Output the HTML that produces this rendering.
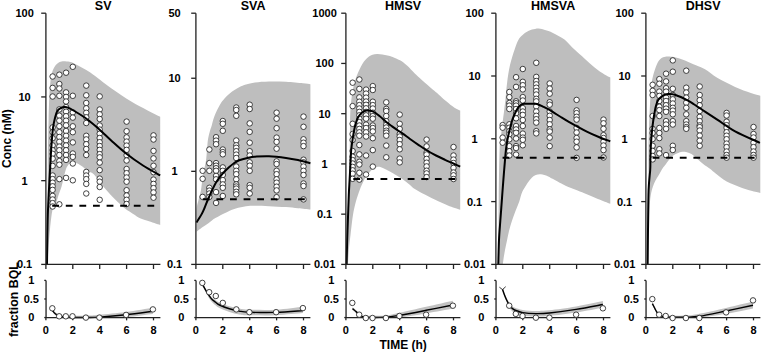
<!DOCTYPE html>
<html><head><meta charset="utf-8"><style>
html,body{margin:0;padding:0;background:#fff;}
svg{display:block;}
text{font-family:"Liberation Sans",sans-serif;font-weight:bold;text-anchor:middle;fill:#000;}
.tl{font-size:11px;}
.ti{font-size:12.5px;}
.lab{font-size:12px;}
.ax{fill:none;stroke:#222;stroke-width:1.3;}
.band{fill:#bebebe;}
.bband{fill:#c2c2c2;}
.loq{stroke:#000;stroke-width:2;stroke-dasharray:6.8,6.8;}
.med{fill:none;stroke:#000;stroke-width:2;stroke-linejoin:round;}
.bmed{fill:none;stroke:#000;stroke-width:1.45;stroke-linejoin:round;}
.ythin{fill:none;stroke:#222;stroke-width:0.9;}
circle{fill:#fff;stroke:#222;stroke-width:0.85;}
</style></head><body>
<svg width="762" height="353" viewBox="0 0 762 353">
<path d="M47 264.4C47.03 260.33 47.1 250.73 47.2 240C47.3 229.27 47.5 213.33 47.6 200C47.7 186.67 47.63 173.33 47.8 160C47.97 146.67 48.33 130.83 48.6 120C48.87 109.17 49.1 101.33 49.4 95C49.7 88.67 50.08 85.25 50.4 82C50.72 78.75 50.88 77.5 51.3 75.5C51.72 73.5 52.18 71.7 52.9 70C53.62 68.3 54.62 66.55 55.6 65.3C56.58 64.05 57.62 63.18 58.8 62.5C59.98 61.82 60.92 61.32 62.7 61.2C64.48 61.08 67.45 61.33 69.5 61.8C71.55 62.27 71.53 62.22 75 64C78.47 65.78 84.27 68.45 90.3 72.5C96.33 76.55 104.17 83.35 111.2 88.3C118.23 93.25 124.33 97.45 132.5 102.2C140.67 106.95 155.58 114.37 160.2 116.8L160.2 225C158.08 224.3 151.03 222 147.5 220.8C143.97 219.6 141.17 218.8 139 217.8C136.83 216.8 136.83 216.35 134.5 214.8C132.17 213.25 127.75 210.58 125 208.5C122.25 206.42 120.33 204.52 118 202.3C115.67 200.08 113.17 197.5 111 195.2C108.83 192.9 106.83 190.62 105 188.5C103.17 186.38 101.83 184.83 100 182.5C98.17 180.17 95.97 176.42 94 174.5C92.03 172.58 90.47 172.55 88.2 171C85.93 169.45 82.98 166.73 80.4 165.2C77.82 163.67 74.85 161.67 72.7 161.8C70.55 161.93 68.77 164.3 67.5 166C66.23 167.7 66.07 168.67 65.1 172C64.13 175.33 62.82 182.08 61.7 186C60.58 189.92 59.37 192.58 58.4 195.5C57.43 198.42 56.88 201.08 55.9 203.5C54.92 205.92 53.48 205.75 52.5 210C51.52 214.25 50.67 222.67 50 229C49.33 235.33 48.9 242.1 48.5 248C48.1 253.9 47.75 261.67 47.6 264.4Z" class="band"/>
<circle cx="52.62" cy="76.5" r="2.75"/>
<circle cx="52.62" cy="87.9" r="2.75"/>
<circle cx="52.62" cy="96.5" r="2.75"/>
<circle cx="52.62" cy="127.4" r="2.75"/>
<circle cx="52.62" cy="132.2" r="2.75"/>
<circle cx="52.62" cy="138.2" r="2.75"/>
<circle cx="52.62" cy="145.4" r="2.75"/>
<circle cx="52.62" cy="150.2" r="2.75"/>
<circle cx="52.62" cy="153.8" r="2.75"/>
<circle cx="52.62" cy="158.7" r="2.75"/>
<circle cx="52.62" cy="165.9" r="2.75"/>
<circle cx="52.62" cy="175.5" r="2.75"/>
<circle cx="52.62" cy="179.1" r="2.75"/>
<circle cx="52.62" cy="182.7" r="2.75"/>
<circle cx="52.62" cy="186.3" r="2.75"/>
<circle cx="52.62" cy="189.9" r="2.75"/>
<circle cx="52.62" cy="195.9" r="2.75"/>
<circle cx="52.62" cy="199.5" r="2.75"/>
<circle cx="52.62" cy="203.1" r="2.75"/>
<circle cx="52.62" cy="206.5" r="2.75"/>
<circle cx="59.35" cy="74.7" r="2.75"/>
<circle cx="59.35" cy="84" r="2.75"/>
<circle cx="59.35" cy="88.5" r="2.75"/>
<circle cx="59.35" cy="95.8" r="2.75"/>
<circle cx="59.35" cy="109.4" r="2.75"/>
<circle cx="59.35" cy="115.7" r="2.75"/>
<circle cx="59.35" cy="120.7" r="2.75"/>
<circle cx="59.35" cy="126.2" r="2.75"/>
<circle cx="59.35" cy="132.2" r="2.75"/>
<circle cx="59.35" cy="137" r="2.75"/>
<circle cx="59.35" cy="141.8" r="2.75"/>
<circle cx="59.35" cy="146.6" r="2.75"/>
<circle cx="59.35" cy="150.2" r="2.75"/>
<circle cx="59.35" cy="155" r="2.75"/>
<circle cx="59.35" cy="161.1" r="2.75"/>
<circle cx="59.35" cy="164.7" r="2.75"/>
<circle cx="59.35" cy="179.1" r="2.75"/>
<circle cx="59.35" cy="204.3" r="2.75"/>
<circle cx="66.07" cy="72.7" r="2.75"/>
<circle cx="66.07" cy="92.4" r="2.75"/>
<circle cx="66.07" cy="96.9" r="2.75"/>
<circle cx="66.07" cy="101.5" r="2.75"/>
<circle cx="66.07" cy="107.1" r="2.75"/>
<circle cx="66.07" cy="111.7" r="2.75"/>
<circle cx="66.07" cy="116.2" r="2.75"/>
<circle cx="66.07" cy="120.7" r="2.75"/>
<circle cx="66.07" cy="125.3" r="2.75"/>
<circle cx="66.07" cy="131" r="2.75"/>
<circle cx="66.07" cy="135.8" r="2.75"/>
<circle cx="66.07" cy="140.6" r="2.75"/>
<circle cx="66.07" cy="145.4" r="2.75"/>
<circle cx="66.07" cy="150.2" r="2.75"/>
<circle cx="66.07" cy="155" r="2.75"/>
<circle cx="66.07" cy="159.9" r="2.75"/>
<circle cx="66.07" cy="177.9" r="2.75"/>
<circle cx="72.8" cy="66.8" r="2.75"/>
<circle cx="72.8" cy="95.8" r="2.75"/>
<circle cx="72.8" cy="112.4" r="2.75"/>
<circle cx="72.8" cy="117.6" r="2.75"/>
<circle cx="72.8" cy="126.3" r="2.75"/>
<circle cx="72.8" cy="132.2" r="2.75"/>
<circle cx="72.8" cy="142.4" r="2.75"/>
<circle cx="72.8" cy="153.5" r="2.75"/>
<circle cx="72.8" cy="156.9" r="2.75"/>
<circle cx="72.8" cy="163.5" r="2.75"/>
<circle cx="72.8" cy="180.3" r="2.75"/>
<circle cx="86.25" cy="85.6" r="2.75"/>
<circle cx="86.25" cy="95.3" r="2.75"/>
<circle cx="86.25" cy="103" r="2.75"/>
<circle cx="86.25" cy="108.3" r="2.75"/>
<circle cx="86.25" cy="112.8" r="2.75"/>
<circle cx="86.25" cy="117.3" r="2.75"/>
<circle cx="86.25" cy="123" r="2.75"/>
<circle cx="86.25" cy="135.8" r="2.75"/>
<circle cx="86.25" cy="139.4" r="2.75"/>
<circle cx="86.25" cy="144.2" r="2.75"/>
<circle cx="86.25" cy="149" r="2.75"/>
<circle cx="86.25" cy="155" r="2.75"/>
<circle cx="86.25" cy="171.9" r="2.75"/>
<circle cx="86.25" cy="175.5" r="2.75"/>
<circle cx="86.25" cy="179.1" r="2.75"/>
<circle cx="86.25" cy="183.9" r="2.75"/>
<circle cx="86.25" cy="193.5" r="2.75"/>
<circle cx="99.7" cy="96.4" r="2.75"/>
<circle cx="99.7" cy="109.5" r="2.75"/>
<circle cx="99.7" cy="114.3" r="2.75"/>
<circle cx="99.7" cy="119" r="2.75"/>
<circle cx="99.7" cy="125.5" r="2.75"/>
<circle cx="99.7" cy="129.6" r="2.75"/>
<circle cx="99.7" cy="133.7" r="2.75"/>
<circle cx="99.7" cy="138" r="2.75"/>
<circle cx="99.7" cy="142.2" r="2.75"/>
<circle cx="99.7" cy="146" r="2.75"/>
<circle cx="99.7" cy="149.9" r="2.75"/>
<circle cx="99.7" cy="154.1" r="2.75"/>
<circle cx="99.7" cy="157.3" r="2.75"/>
<circle cx="99.7" cy="162.6" r="2.75"/>
<circle cx="99.7" cy="170.1" r="2.75"/>
<circle cx="99.7" cy="178.6" r="2.75"/>
<circle cx="99.7" cy="181.7" r="2.75"/>
<circle cx="99.7" cy="187" r="2.75"/>
<circle cx="99.7" cy="199.8" r="2.75"/>
<circle cx="126.6" cy="121.6" r="2.75"/>
<circle cx="126.6" cy="131.2" r="2.75"/>
<circle cx="126.6" cy="137.4" r="2.75"/>
<circle cx="126.6" cy="141.6" r="2.75"/>
<circle cx="126.6" cy="145.6" r="2.75"/>
<circle cx="126.6" cy="149.9" r="2.75"/>
<circle cx="126.6" cy="155.2" r="2.75"/>
<circle cx="126.6" cy="160.5" r="2.75"/>
<circle cx="126.6" cy="169" r="2.75"/>
<circle cx="126.6" cy="173.2" r="2.75"/>
<circle cx="126.6" cy="177.5" r="2.75"/>
<circle cx="126.6" cy="181.7" r="2.75"/>
<circle cx="126.6" cy="190.2" r="2.75"/>
<circle cx="126.6" cy="195.5" r="2.75"/>
<circle cx="126.6" cy="199.8" r="2.75"/>
<circle cx="126.6" cy="204" r="2.75"/>
<circle cx="153.5" cy="135.4" r="2.75"/>
<circle cx="153.5" cy="139.5" r="2.75"/>
<circle cx="153.5" cy="150.9" r="2.75"/>
<circle cx="153.5" cy="158.4" r="2.75"/>
<circle cx="153.5" cy="165.8" r="2.75"/>
<circle cx="153.5" cy="172.2" r="2.75"/>
<circle cx="153.5" cy="179.6" r="2.75"/>
<circle cx="153.5" cy="183.9" r="2.75"/>
<circle cx="153.5" cy="188.1" r="2.75"/>
<circle cx="153.5" cy="192.4" r="2.75"/>
<circle cx="153.5" cy="197.7" r="2.75"/>
<line x1="52.2" y1="205.8" x2="154.5" y2="205.8" class="loq"/>
<path d="M47 264.4C47.05 260.33 47.17 248.23 47.3 240C47.43 231.77 47.57 222.5 47.8 215C48.03 207.5 48.33 202.5 48.7 195C49.07 187.5 49.53 178.33 50 170C50.47 161.67 51 152 51.5 145C52 138 52.42 132.5 53 128C53.58 123.5 54.28 120.83 55 118C55.72 115.17 56.3 112.67 57.3 111C58.3 109.33 59.8 108.65 61 108C62.2 107.35 63.33 107.17 64.5 107.1C65.67 107.03 66.5 107.03 68 107.6C69.5 108.17 70.7 108.85 73.5 110.5C76.3 112.15 82.05 115.67 84.8 117.5C87.55 119.33 88.13 120 90 121.5C91.87 123 93.88 124.67 96 126.5C98.12 128.33 100.17 130.17 102.7 132.5C105.23 134.83 107.3 137 111.2 140.5C115.1 144 120.8 149.33 126.1 153.5C131.4 157.67 137.32 161.85 143 165.5C148.68 169.15 157.33 173.75 160.2 175.4" class="med"/>
<path d="M45.9 13.2V264.4H160.4" class="ax"/>
<path d="M41.2 13.2H45.9" class="ax"/>
<text x="24.6" y="17.1" class="tl">100</text>
<path d="M41.2 96.93H45.9" class="ax"/>
<text x="24.6" y="100.83" class="tl">10</text>
<path d="M41.2 180.67H45.9" class="ax"/>
<text x="24.6" y="184.57" class="tl">1</text>
<path d="M41.2 264.4H45.9" class="ax"/>
<text x="24.6" y="268.3" class="tl">0.1</text>
<path d="M45.9 264.4V269" class="ax"/>
<path d="M72.8 264.4V269" class="ax"/>
<path d="M99.7 264.4V269" class="ax"/>
<path d="M126.6 264.4V269" class="ax"/>
<path d="M153.5 264.4V269" class="ax"/>
<text x="103.15" y="10" class="ti">SV</text>
<path d="M52.5 309.2C52.92 309.67 53.88 311.07 55 312C56.12 312.93 57.37 314.18 59.2 314.8C61.03 315.42 61.53 315.55 66 315.7C70.47 315.85 80.43 315.85 86 315.7C91.57 315.55 92.72 315.42 99.4 314.8C106.08 314.18 117.18 313.17 126.1 312C135.02 310.83 148.43 308.5 152.9 307.8L152.9 314C148.43 314.52 135.02 316.51 126.1 317.1C117.18 317.69 106.08 317.48 99.4 317.55C92.72 317.62 91.57 317.55 86 317.55C80.43 317.55 70.47 317.55 66 317.55C61.53 317.55 61.03 317.98 59.2 317.55C57.37 317.12 56.12 315.96 55 315C53.88 314.04 52.92 312.33 52.5 311.8Z" class="bband"/>
<path d="M52.5 310.5C52.92 311 53.88 312.53 55 313.5C56.12 314.47 57.37 315.68 59.2 316.3C61.03 316.92 61.53 317.02 66 317.2C70.47 317.38 80.43 317.42 86 317.4C91.57 317.38 92.72 317.53 99.4 317.1C106.08 316.67 117.18 315.77 126.1 314.8C135.02 313.83 148.43 311.88 152.9 311.3" class="bmed"/>
<path d="M46.05 280.4V317.55H160.4" class="ax"/>
<path d="M44.25 280.4H46.05" class="ax"/>
<text x="31.35" y="284.3" class="tl">1</text>
<path d="M44.25 298.98H46.05" class="ax"/>
<text x="31.35" y="302.88" class="tl">0.5</text>
<path d="M44.25 317.55H46.05" class="ax"/>
<text x="31.35" y="321.45" class="tl">0</text>
<path d="M45.9 317.55V320.35" class="ax"/>
<text x="45.9" y="334.2" class="tl">0</text>
<path d="M72.8 317.55V320.35" class="ax"/>
<text x="72.8" y="334.2" class="tl">2</text>
<path d="M99.7 317.55V320.35" class="ax"/>
<text x="99.7" y="334.2" class="tl">4</text>
<path d="M126.6 317.55V320.35" class="ax"/>
<text x="126.6" y="334.2" class="tl">6</text>
<path d="M153.5 317.55V320.35" class="ax"/>
<text x="153.5" y="334.2" class="tl">8</text>
<circle cx="52.3" cy="308.3" r="2.75"/>
<circle cx="59.2" cy="316.3" r="2.75"/>
<circle cx="65.8" cy="316.3" r="2.75"/>
<circle cx="72.5" cy="316.3" r="2.75"/>
<circle cx="85.9" cy="317.6" r="2.75"/>
<circle cx="99.4" cy="317.6" r="2.75"/>
<circle cx="126.1" cy="314.9" r="2.75"/>
<circle cx="152.9" cy="309.4" r="2.75"/>
<path d="M196.6 231.7C196.6 228.08 196.28 215.28 196.6 210C196.92 204.72 197.77 203.33 198.5 200C199.23 196.67 200.32 193.73 201 190C201.68 186.27 202.02 181.27 202.6 177.6C203.18 173.93 203.93 170.83 204.5 168C205.07 165.17 205.58 163.6 206 160.6C206.42 157.6 206.68 153.43 207 150C207.32 146.57 207.47 142.97 207.9 140C208.33 137.03 208.95 134.67 209.6 132.2C210.25 129.73 210.98 127.9 211.8 125.2C212.62 122.5 213.17 119.37 214.5 116C215.83 112.63 218.13 107.92 219.8 105C221.47 102.08 222.85 100.42 224.5 98.5C226.15 96.58 228.03 94.92 229.7 93.5C231.37 92.08 232.85 91.08 234.5 90C236.15 88.92 237.68 87.92 239.6 87C241.52 86.08 243.43 85.25 246 84.5C248.57 83.75 251.17 83 255 82.5C258.83 82 263.83 81.62 269 81.5C274.17 81.38 280.33 81.5 286 81.8C291.67 82.1 298.93 82.88 303 83.3C307.07 83.72 309.17 84.13 310.4 84.3L310.4 209.6C308.33 209.38 302.07 208.72 298 208.3C293.93 207.88 290.83 207.45 286 207.1C281.17 206.75 274.17 206.42 269 206.2C263.83 205.98 258.83 205.78 255 205.8C251.17 205.82 249.2 205.83 246 206.3C242.8 206.77 239 207.62 235.8 208.6C232.6 209.58 230.2 210.62 226.8 212.2C223.4 213.78 218.47 216.27 215.4 218.1C212.33 219.93 210.63 221.63 208.4 223.2C206.17 224.77 203.97 226.08 202 227.5C200.03 228.92 197.5 231 196.6 231.7Z" class="band"/>
<circle cx="202.62" cy="170.8" r="2.75"/>
<circle cx="202.62" cy="178.8" r="2.75"/>
<circle cx="202.62" cy="196.9" r="2.75"/>
<circle cx="209.35" cy="149.5" r="2.75"/>
<circle cx="209.35" cy="163.1" r="2.75"/>
<circle cx="209.35" cy="170.8" r="2.75"/>
<circle cx="209.35" cy="187.8" r="2.75"/>
<circle cx="209.35" cy="190.6" r="2.75"/>
<circle cx="209.35" cy="193.5" r="2.75"/>
<circle cx="209.35" cy="196.9" r="2.75"/>
<circle cx="216.07" cy="137.2" r="2.75"/>
<circle cx="216.07" cy="140.6" r="2.75"/>
<circle cx="216.07" cy="144.2" r="2.75"/>
<circle cx="216.07" cy="163.1" r="2.75"/>
<circle cx="216.07" cy="165.7" r="2.75"/>
<circle cx="216.07" cy="168.2" r="2.75"/>
<circle cx="216.07" cy="170.8" r="2.75"/>
<circle cx="216.07" cy="175.9" r="2.75"/>
<circle cx="216.07" cy="179.3" r="2.75"/>
<circle cx="216.07" cy="192.1" r="2.75"/>
<circle cx="216.07" cy="202.9" r="2.75"/>
<circle cx="222.8" cy="121" r="2.75"/>
<circle cx="222.8" cy="123.8" r="2.75"/>
<circle cx="222.8" cy="130.8" r="2.75"/>
<circle cx="222.8" cy="149.5" r="2.75"/>
<circle cx="222.8" cy="152.1" r="2.75"/>
<circle cx="222.8" cy="154.3" r="2.75"/>
<circle cx="222.8" cy="167.4" r="2.75"/>
<circle cx="222.8" cy="170.8" r="2.75"/>
<circle cx="222.8" cy="175" r="2.75"/>
<circle cx="222.8" cy="180.1" r="2.75"/>
<circle cx="222.8" cy="184.4" r="2.75"/>
<circle cx="222.8" cy="187.8" r="2.75"/>
<circle cx="222.8" cy="196" r="2.75"/>
<circle cx="236.25" cy="107.5" r="2.75"/>
<circle cx="236.25" cy="110" r="2.75"/>
<circle cx="236.25" cy="115.8" r="2.75"/>
<circle cx="236.25" cy="140.5" r="2.75"/>
<circle cx="236.25" cy="145.3" r="2.75"/>
<circle cx="236.25" cy="147.8" r="2.75"/>
<circle cx="236.25" cy="151.2" r="2.75"/>
<circle cx="236.25" cy="154.6" r="2.75"/>
<circle cx="236.25" cy="158" r="2.75"/>
<circle cx="236.25" cy="166.5" r="2.75"/>
<circle cx="236.25" cy="170.8" r="2.75"/>
<circle cx="236.25" cy="174.2" r="2.75"/>
<circle cx="236.25" cy="179.3" r="2.75"/>
<circle cx="236.25" cy="184.4" r="2.75"/>
<circle cx="236.25" cy="186.5" r="2.75"/>
<circle cx="236.25" cy="188.6" r="2.75"/>
<circle cx="236.25" cy="191.8" r="2.75"/>
<circle cx="236.25" cy="194.3" r="2.75"/>
<circle cx="249.7" cy="104.7" r="2.75"/>
<circle cx="249.7" cy="109" r="2.75"/>
<circle cx="249.7" cy="123.4" r="2.75"/>
<circle cx="249.7" cy="131.9" r="2.75"/>
<circle cx="249.7" cy="142.7" r="2.75"/>
<circle cx="249.7" cy="151.2" r="2.75"/>
<circle cx="249.7" cy="155.5" r="2.75"/>
<circle cx="249.7" cy="162.3" r="2.75"/>
<circle cx="249.7" cy="165.7" r="2.75"/>
<circle cx="249.7" cy="170.8" r="2.75"/>
<circle cx="249.7" cy="185.2" r="2.75"/>
<circle cx="249.7" cy="187.8" r="2.75"/>
<circle cx="249.7" cy="193.5" r="2.75"/>
<circle cx="276.6" cy="112.7" r="2.75"/>
<circle cx="276.6" cy="118.7" r="2.75"/>
<circle cx="276.6" cy="128.2" r="2.75"/>
<circle cx="276.6" cy="137.6" r="2.75"/>
<circle cx="276.6" cy="141.9" r="2.75"/>
<circle cx="276.6" cy="148.7" r="2.75"/>
<circle cx="276.6" cy="161.4" r="2.75"/>
<circle cx="276.6" cy="164" r="2.75"/>
<circle cx="276.6" cy="170.8" r="2.75"/>
<circle cx="276.6" cy="174.2" r="2.75"/>
<circle cx="276.6" cy="179.3" r="2.75"/>
<circle cx="276.6" cy="182.7" r="2.75"/>
<circle cx="276.6" cy="186.7" r="2.75"/>
<circle cx="276.6" cy="190.4" r="2.75"/>
<circle cx="276.6" cy="197.2" r="2.75"/>
<circle cx="303.5" cy="116.6" r="2.75"/>
<circle cx="303.5" cy="126.8" r="2.75"/>
<circle cx="303.5" cy="139.3" r="2.75"/>
<circle cx="303.5" cy="142.7" r="2.75"/>
<circle cx="303.5" cy="146.1" r="2.75"/>
<circle cx="303.5" cy="159.7" r="2.75"/>
<circle cx="303.5" cy="162.3" r="2.75"/>
<circle cx="303.5" cy="166.5" r="2.75"/>
<circle cx="303.5" cy="170.8" r="2.75"/>
<circle cx="303.5" cy="175" r="2.75"/>
<circle cx="303.5" cy="183.5" r="2.75"/>
<circle cx="303.5" cy="186" r="2.75"/>
<circle cx="303.5" cy="199.4" r="2.75"/>
<line x1="202.8" y1="199.3" x2="304.8" y2="199.3" class="loq"/>
<path d="M196.4 222.5C196.83 221.83 198.1 219.93 199 218.5C199.9 217.07 200.88 215.65 201.8 213.9C202.72 212.15 203.65 209.98 204.5 208C205.35 206.02 206.07 204 206.9 202C207.73 200 208.65 197.92 209.5 196C210.35 194.08 210.92 192.75 212 190.5C213.08 188.25 214.58 184.88 216 182.5C217.42 180.12 219 178.12 220.5 176.2C222 174.28 223.58 172.5 225 171C226.42 169.5 227.5 168.5 229 167.2C230.5 165.9 232.3 164.37 234 163.2C235.7 162.03 236.63 161.17 239.2 160.2C241.77 159.23 246.77 157.98 249.4 157.4C252.03 156.82 251.73 156.88 255 156.7C258.27 156.52 263.83 156.1 269 156.3C274.17 156.5 281.17 157.28 286 157.9C290.83 158.52 293.93 159.12 298 160C302.07 160.88 308.33 162.67 310.4 163.2" class="med"/>
<path d="M195.9 13.2V264.4H310.4" class="ax"/>
<path d="M191.2 13.2H195.9" class="ax"/>
<text x="174.6" y="17.1" class="tl">50</text>
<path d="M191.2 78.25H195.9" class="ax"/>
<text x="174.6" y="82.15" class="tl">10</text>
<path d="M191.2 171.33H195.9" class="ax"/>
<text x="174.6" y="175.23" class="tl">1</text>
<path d="M191.2 264.4H195.9" class="ax"/>
<text x="174.6" y="268.3" class="tl">0.1</text>
<path d="M195.9 264.4V269" class="ax"/>
<path d="M222.8 264.4V269" class="ax"/>
<path d="M249.7 264.4V269" class="ax"/>
<path d="M276.6 264.4V269" class="ax"/>
<path d="M303.5 264.4V269" class="ax"/>
<text x="253.15" y="10" class="ti">SVA</text>
<path d="M202.3 282.7C202.98 283.9 204.9 287.55 206.4 289.9C207.9 292.25 209.78 295.1 211.3 296.8C212.82 298.5 214.13 299.12 215.5 300.1C216.87 301.08 217.18 301.67 219.5 302.7C221.82 303.73 226.12 305.32 229.4 306.3C232.68 307.28 235.93 308.03 239.2 308.6C242.47 309.17 242.85 309.52 249 309.7C255.15 309.88 267.12 310.18 276.1 309.7C285.08 309.22 298.43 307.28 302.9 306.8L302.9 313.1C298.43 313.45 285.08 314.85 276.1 315.2C267.12 315.55 255.15 315.33 249 315.2C242.85 315.07 242.47 314.95 239.2 314.4C235.93 313.85 232.68 312.95 229.4 311.9C226.12 310.85 221.82 309.2 219.5 308.1C217.18 307 216.87 306.43 215.5 305.3C214.13 304.17 212.82 303.28 211.3 301.3C209.78 299.32 207.9 296.07 206.4 293.4C204.9 290.73 202.98 286.65 202.3 285.3Z" class="bband"/>
<path d="M202.3 284C202.98 285.23 204.9 288.97 206.4 291.4C207.9 293.83 209.78 296.8 211.3 298.6C212.82 300.4 214.13 301.13 215.5 302.2C216.87 303.27 217.18 303.9 219.5 305C221.82 306.1 226.12 307.78 229.4 308.8C232.68 309.82 235.93 310.53 239.2 311.1C242.47 311.67 242.85 311.98 249 312.2C255.15 312.42 267.12 312.67 276.1 312.4C285.08 312.13 298.43 310.9 302.9 310.6" class="bmed"/>
<path d="M196.05 280.4V317.55H310.4" class="ax"/>
<path d="M194.25 280.4H196.05" class="ax"/>
<text x="181.35" y="284.3" class="tl">1</text>
<path d="M194.25 298.98H196.05" class="ax"/>
<text x="181.35" y="302.88" class="tl">0.5</text>
<path d="M194.25 317.55H196.05" class="ax"/>
<text x="181.35" y="321.45" class="tl">0</text>
<path d="M195.9 317.55V320.35" class="ax"/>
<text x="195.9" y="334.2" class="tl">0</text>
<path d="M222.8 317.55V320.35" class="ax"/>
<text x="222.8" y="334.2" class="tl">2</text>
<path d="M249.7 317.55V320.35" class="ax"/>
<text x="249.7" y="334.2" class="tl">4</text>
<path d="M276.6 317.55V320.35" class="ax"/>
<text x="276.6" y="334.2" class="tl">6</text>
<path d="M303.5 317.55V320.35" class="ax"/>
<text x="303.5" y="334.2" class="tl">8</text>
<circle cx="202.3" cy="282.9" r="2.75"/>
<circle cx="209.2" cy="292.2" r="2.75"/>
<circle cx="215.8" cy="296" r="2.75"/>
<circle cx="222.8" cy="302.9" r="2.75"/>
<circle cx="236.3" cy="309.4" r="2.75"/>
<circle cx="249.4" cy="312.2" r="2.75"/>
<circle cx="276.1" cy="312.2" r="2.75"/>
<circle cx="302.9" cy="308.1" r="2.75"/>
<path d="M346.6 264.4C346.7 260.33 346.97 248.23 347.2 240C347.43 231.77 347.7 223.33 348 215C348.3 206.67 348.72 200.83 349 190C349.28 179.17 349.52 161.67 349.7 150C349.88 138.33 349.92 127.5 350.1 120C350.28 112.5 350.43 109.5 350.8 105C351.17 100.5 351.72 96.58 352.3 93C352.88 89.42 353.52 86.45 354.3 83.5C355.08 80.55 356.13 77.63 357 75.3C357.87 72.97 358.58 71.42 359.5 69.5C360.42 67.58 361.5 65.42 362.5 63.8C363.5 62.18 364.42 61 365.5 59.8C366.58 58.6 367.83 57.43 369 56.6C370.17 55.77 371.17 55.23 372.5 54.8C373.83 54.37 375.35 54.07 377 54C378.65 53.93 380.65 54.15 382.4 54.4C384.15 54.65 385.8 55.08 387.5 55.5C389.2 55.92 390.52 56.1 392.6 56.9C394.68 57.7 397.6 58.87 400 60.3C402.4 61.73 404.53 63.3 407 65.5C409.47 67.7 412.47 71.22 414.8 73.5C417.13 75.78 418.87 77.28 421 79.2C423.13 81.12 425.6 83.23 427.6 85C429.6 86.77 431.17 88.23 433 89.8C434.83 91.37 436.43 92.53 438.6 94.4C440.77 96.27 443.35 98.77 446 101C448.65 103.23 452.13 106.2 454.5 107.8C456.87 109.4 459.25 110.13 460.2 110.6L460.2 209.8C458.15 209.08 452.15 207.2 447.9 205.5C443.65 203.8 438.55 201.42 434.7 199.6C430.85 197.78 428.12 196.37 424.8 194.6C421.48 192.83 417.27 190.6 414.8 189C412.33 187.4 411.63 186.33 410 185C408.37 183.67 406.75 182.28 405 181C403.25 179.72 401.17 178.37 399.5 177.3C397.83 176.23 396.32 175.4 395 174.6C393.68 173.8 393.1 173.35 391.6 172.5C390.1 171.65 387.77 170.37 386 169.5C384.23 168.63 382.5 167.72 381 167.3C379.5 166.88 378.33 166.75 377 167C375.67 167.25 374.2 167.97 373 168.8C371.8 169.63 370.88 170.8 369.8 172C368.72 173.2 367.5 174.58 366.5 176C365.5 177.42 364.92 178.22 363.8 180.5C362.68 182.78 361.12 186.18 359.8 189.7C358.48 193.22 357.05 197.3 355.9 201.6C354.75 205.9 353.8 209.93 352.9 215.5C352 221.07 351.18 229.25 350.5 235C349.82 240.75 349.22 245.1 348.8 250C348.38 254.9 348.13 262 348 264.4Z" class="band"/>
<circle cx="352.62" cy="82.7" r="2.75"/>
<circle cx="352.62" cy="92.3" r="2.75"/>
<circle cx="352.62" cy="106.1" r="2.75"/>
<circle cx="352.62" cy="123.8" r="2.75"/>
<circle cx="352.62" cy="134" r="2.75"/>
<circle cx="352.62" cy="140" r="2.75"/>
<circle cx="352.62" cy="151" r="2.75"/>
<circle cx="352.62" cy="156.7" r="2.75"/>
<circle cx="352.62" cy="160.1" r="2.75"/>
<circle cx="352.62" cy="163.5" r="2.75"/>
<circle cx="352.62" cy="166.9" r="2.75"/>
<circle cx="352.62" cy="170.3" r="2.75"/>
<circle cx="352.62" cy="173.7" r="2.75"/>
<circle cx="352.62" cy="178.8" r="2.75"/>
<circle cx="359.35" cy="79.5" r="2.75"/>
<circle cx="359.35" cy="88.9" r="2.75"/>
<circle cx="359.35" cy="97.4" r="2.75"/>
<circle cx="359.35" cy="101.7" r="2.75"/>
<circle cx="359.35" cy="105.1" r="2.75"/>
<circle cx="359.35" cy="108.5" r="2.75"/>
<circle cx="359.35" cy="111.9" r="2.75"/>
<circle cx="359.35" cy="115.3" r="2.75"/>
<circle cx="359.35" cy="118.7" r="2.75"/>
<circle cx="359.35" cy="122.1" r="2.75"/>
<circle cx="359.35" cy="125.5" r="2.75"/>
<circle cx="359.35" cy="128.9" r="2.75"/>
<circle cx="359.35" cy="132.3" r="2.75"/>
<circle cx="359.35" cy="135.7" r="2.75"/>
<circle cx="359.35" cy="145" r="2.75"/>
<circle cx="359.35" cy="154.4" r="2.75"/>
<circle cx="359.35" cy="161.8" r="2.75"/>
<circle cx="359.35" cy="164.5" r="2.75"/>
<circle cx="359.35" cy="172.8" r="2.75"/>
<circle cx="359.35" cy="179.6" r="2.75"/>
<circle cx="366.07" cy="89.6" r="2.75"/>
<circle cx="366.07" cy="93.6" r="2.75"/>
<circle cx="366.07" cy="97.6" r="2.75"/>
<circle cx="366.07" cy="101.5" r="2.75"/>
<circle cx="366.07" cy="104.8" r="2.75"/>
<circle cx="366.07" cy="108.3" r="2.75"/>
<circle cx="366.07" cy="111.9" r="2.75"/>
<circle cx="366.07" cy="115.3" r="2.75"/>
<circle cx="366.07" cy="118.7" r="2.75"/>
<circle cx="366.07" cy="124.6" r="2.75"/>
<circle cx="366.07" cy="128" r="2.75"/>
<circle cx="366.07" cy="132.3" r="2.75"/>
<circle cx="366.07" cy="136.5" r="2.75"/>
<circle cx="366.07" cy="155.5" r="2.75"/>
<circle cx="366.07" cy="174.5" r="2.75"/>
<circle cx="372.8" cy="86.1" r="2.75"/>
<circle cx="372.8" cy="90" r="2.75"/>
<circle cx="372.8" cy="101.7" r="2.75"/>
<circle cx="372.8" cy="105.1" r="2.75"/>
<circle cx="372.8" cy="108.5" r="2.75"/>
<circle cx="372.8" cy="112.7" r="2.75"/>
<circle cx="372.8" cy="116.1" r="2.75"/>
<circle cx="372.8" cy="118.7" r="2.75"/>
<circle cx="372.8" cy="125.5" r="2.75"/>
<circle cx="372.8" cy="128" r="2.75"/>
<circle cx="372.8" cy="131.4" r="2.75"/>
<circle cx="372.8" cy="138.2" r="2.75"/>
<circle cx="372.8" cy="150.1" r="2.75"/>
<circle cx="372.8" cy="166.6" r="2.75"/>
<circle cx="386.25" cy="102.3" r="2.75"/>
<circle cx="386.25" cy="108.9" r="2.75"/>
<circle cx="386.25" cy="111" r="2.75"/>
<circle cx="386.25" cy="116" r="2.75"/>
<circle cx="386.25" cy="121.2" r="2.75"/>
<circle cx="386.25" cy="124.8" r="2.75"/>
<circle cx="386.25" cy="127.5" r="2.75"/>
<circle cx="386.25" cy="130.7" r="2.75"/>
<circle cx="386.25" cy="132.7" r="2.75"/>
<circle cx="386.25" cy="135.7" r="2.75"/>
<circle cx="386.25" cy="145.6" r="2.75"/>
<circle cx="386.25" cy="157.3" r="2.75"/>
<circle cx="399.7" cy="114.6" r="2.75"/>
<circle cx="399.7" cy="123.8" r="2.75"/>
<circle cx="399.7" cy="128.9" r="2.75"/>
<circle cx="399.7" cy="134" r="2.75"/>
<circle cx="399.7" cy="136.5" r="2.75"/>
<circle cx="399.7" cy="140" r="2.75"/>
<circle cx="399.7" cy="144.2" r="2.75"/>
<circle cx="399.7" cy="149.3" r="2.75"/>
<circle cx="399.7" cy="158.6" r="2.75"/>
<circle cx="399.7" cy="162.4" r="2.75"/>
<circle cx="426.6" cy="139.6" r="2.75"/>
<circle cx="426.6" cy="146.4" r="2.75"/>
<circle cx="426.6" cy="152.5" r="2.75"/>
<circle cx="426.6" cy="154.5" r="2.75"/>
<circle cx="426.6" cy="158.9" r="2.75"/>
<circle cx="426.6" cy="162.7" r="2.75"/>
<circle cx="426.6" cy="166.4" r="2.75"/>
<circle cx="426.6" cy="170.7" r="2.75"/>
<circle cx="426.6" cy="173.4" r="2.75"/>
<circle cx="426.6" cy="177.1" r="2.75"/>
<circle cx="453.5" cy="147" r="2.75"/>
<circle cx="453.5" cy="155.5" r="2.75"/>
<circle cx="453.5" cy="159.6" r="2.75"/>
<circle cx="453.5" cy="163" r="2.75"/>
<circle cx="453.5" cy="167.9" r="2.75"/>
<circle cx="453.5" cy="172.5" r="2.75"/>
<circle cx="453.5" cy="175.3" r="2.75"/>
<circle cx="453.5" cy="179" r="2.75"/>
<line x1="353.3" y1="179" x2="455.3" y2="179" class="loq"/>
<path d="M346.6 264.4C346.7 260.33 346.98 247.4 347.2 240C347.42 232.6 347.63 227.5 347.9 220C348.17 212.5 348.52 201.67 348.8 195C349.08 188.33 349.33 185 349.6 180C349.87 175 350.13 170 350.4 165C350.67 160 350.8 154.5 351.2 150C351.6 145.5 352.25 141.58 352.8 138C353.35 134.42 353.93 131.17 354.5 128.5C355.07 125.83 355.63 123.8 356.2 122C356.77 120.2 357.05 119.18 357.9 117.7C358.75 116.22 360.28 114.17 361.3 113.1C362.32 112.03 363.05 111.72 364 111.3C364.95 110.88 365.55 110.58 367 110.6C368.45 110.62 370.62 110.5 372.7 111.4C374.78 112.3 377.23 114.23 379.5 116C381.77 117.77 384.33 120.37 386.3 122C388.27 123.63 389.68 124.6 391.3 125.8C392.92 127 394.1 127.9 396 129.2C397.9 130.5 400.37 131.97 402.7 133.6C405.03 135.23 407.38 137.13 410 139C412.62 140.87 415.57 142.88 418.4 144.8C421.23 146.72 424.07 148.72 427 150.5C429.93 152.28 433 153.95 436 155.5C439 157.05 442.1 158.47 445 159.8C447.9 161.13 450.87 162.37 453.4 163.5C455.93 164.63 459.07 166.08 460.2 166.6" class="med"/>
<path d="M345.9 13.2V264.4H460.4" class="ax"/>
<path d="M341.2 13.2H345.9" class="ax"/>
<text x="324.6" y="17.1" class="tl">1000</text>
<path d="M341.2 63.44H345.9" class="ax"/>
<text x="324.6" y="67.34" class="tl">100</text>
<path d="M341.2 113.68H345.9" class="ax"/>
<text x="324.6" y="117.58" class="tl">10</text>
<path d="M341.2 163.92H345.9" class="ax"/>
<text x="324.6" y="167.82" class="tl">1</text>
<path d="M341.2 214.16H345.9" class="ax"/>
<text x="324.6" y="218.06" class="tl">0.1</text>
<path d="M341.2 264.4H345.9" class="ax"/>
<text x="324.6" y="268.3" class="tl">0.01</text>
<path d="M345.9 264.4V269" class="ax"/>
<path d="M372.8 264.4V269" class="ax"/>
<path d="M399.7 264.4V269" class="ax"/>
<path d="M426.6 264.4V269" class="ax"/>
<path d="M453.5 264.4V269" class="ax"/>
<text x="403.15" y="10" class="ti">HMSV</text>
<path d="M352.5 307.3C353.15 307.82 355.28 309.4 356.4 310.4C357.52 311.4 357.77 312.43 359.2 313.3C360.63 314.17 360.55 315.25 365 315.6C369.45 315.95 380.17 315.87 385.9 315.4C391.63 314.93 392.7 314.23 399.4 312.8C406.1 311.37 417.18 308.82 426.1 306.8C435.02 304.78 448.43 301.72 452.9 300.7L452.9 308.5C448.43 309.32 435.02 311.92 426.1 313.4C417.18 314.88 406.1 316.71 399.4 317.4C392.7 318.09 391.63 317.53 385.9 317.55C380.17 317.57 369.45 317.76 365 317.55C360.55 317.34 360.63 316.99 359.2 316.3C357.77 315.61 357.52 314.47 356.4 313.4C355.28 312.33 353.15 310.48 352.5 309.9Z" class="bband"/>
<path d="M352.5 308.6C353.15 309.15 355.28 310.87 356.4 311.9C357.52 312.93 357.77 313.93 359.2 314.8C360.63 315.67 360.55 316.72 365 317.1C369.45 317.48 380.17 317.4 385.9 317.1C391.63 316.8 392.7 316.43 399.4 315.3C406.1 314.17 417.18 312.02 426.1 310.3C435.02 308.58 448.43 305.88 452.9 305" class="bmed"/>
<path d="M346.05 280.4V317.55H460.4" class="ax"/>
<path d="M344.25 280.4H346.05" class="ax"/>
<text x="331.35" y="284.3" class="tl">1</text>
<path d="M344.25 298.98H346.05" class="ax"/>
<text x="331.35" y="302.88" class="tl">0.5</text>
<path d="M344.25 317.55H346.05" class="ax"/>
<text x="331.35" y="321.45" class="tl">0</text>
<path d="M345.9 317.55V320.35" class="ax"/>
<text x="345.9" y="334.2" class="tl">0</text>
<path d="M372.8 317.55V320.35" class="ax"/>
<text x="372.8" y="334.2" class="tl">2</text>
<path d="M399.7 317.55V320.35" class="ax"/>
<text x="399.7" y="334.2" class="tl">4</text>
<path d="M426.6 317.55V320.35" class="ax"/>
<text x="426.6" y="334.2" class="tl">6</text>
<path d="M453.5 317.55V320.35" class="ax"/>
<text x="453.5" y="334.2" class="tl">8</text>
<circle cx="352.3" cy="302.9" r="2.75"/>
<circle cx="359.2" cy="314.7" r="2.75"/>
<circle cx="365.8" cy="318" r="2.75"/>
<circle cx="372.5" cy="318" r="2.75"/>
<circle cx="385.9" cy="318" r="2.75"/>
<circle cx="399.4" cy="316" r="2.75"/>
<circle cx="426.1" cy="314.7" r="2.75"/>
<circle cx="452.9" cy="305.7" r="2.75"/>
<path d="M498.4 264.4C498.45 253.67 498.5 219.07 498.7 200C498.9 180.93 499.25 160.33 499.6 150C499.95 139.67 500.35 142.17 500.8 138C501.25 133.83 501.73 129.67 502.3 125C502.87 120.33 503.68 114.17 504.2 110C504.72 105.83 505.07 103.17 505.4 100C505.73 96.83 505.9 94 506.2 91C506.5 88 506.85 84.83 507.2 82C507.55 79.17 507.83 76.83 508.3 74C508.77 71.17 509.35 67.83 510 65C510.65 62.17 511.4 59.67 512.2 57C513 54.33 513.82 51.75 514.8 49C515.78 46.25 516.95 42.7 518.1 40.5C519.25 38.3 520.22 37.25 521.7 35.8C523.18 34.35 525.28 32.83 527 31.8C528.72 30.77 530.07 30.17 532 29.6C533.93 29.03 536.43 28.35 538.6 28.4C540.77 28.45 543.1 29.38 545 29.9C546.9 30.42 548.35 30.83 550 31.5C551.65 32.17 553.32 33.07 554.9 33.9C556.48 34.73 557.85 35.52 559.5 36.5C561.15 37.48 563.13 38.47 564.8 39.8C566.47 41.13 567.83 42.83 569.5 44.5C571.17 46.17 572.27 47.43 574.8 49.8C577.33 52.17 581.4 55.73 584.7 58.7C588 61.67 591.3 64.95 594.6 67.6C597.9 70.25 601.88 72.95 604.5 74.6C607.12 76.25 609.33 77.02 610.3 77.5L610.3 203.7C608.23 202.9 601.82 200.47 597.9 198.9C593.98 197.33 590.18 195.68 586.8 194.3C583.42 192.92 580.67 191.82 577.6 190.6C574.53 189.38 571.47 188.37 568.4 187C565.33 185.63 561.93 183.8 559.2 182.4C556.47 181 553.92 179.63 552 178.6C550.08 177.57 549.55 176.92 547.7 176.2C545.85 175.48 542.88 174.5 540.9 174.3C538.92 174.1 537.28 174.47 535.8 175C534.32 175.53 533.13 176.5 532 177.5C530.87 178.5 529.95 179.75 529 181C528.05 182.25 527.43 183.17 526.3 185C525.17 186.83 523.4 189.18 522.2 192C521 194.82 520.22 198.73 519.1 201.9C517.98 205.07 516.7 207.8 515.5 211C514.3 214.2 512.98 217.77 511.9 221.1C510.82 224.43 509.82 227.78 509 231C508.18 234.22 507.67 237.23 507 240.4C506.33 243.57 505.6 246.78 505 250C504.4 253.22 503.77 257.3 503.4 259.7C503.03 262.1 502.9 263.62 502.8 264.4Z" class="band"/>
<circle cx="502.62" cy="125.1" r="2.75"/>
<circle cx="502.62" cy="127.7" r="2.75"/>
<circle cx="502.62" cy="137.6" r="2.75"/>
<circle cx="502.62" cy="142.7" r="2.75"/>
<circle cx="509.35" cy="92" r="2.75"/>
<circle cx="509.35" cy="97.1" r="2.75"/>
<circle cx="509.35" cy="103" r="2.75"/>
<circle cx="509.35" cy="105.6" r="2.75"/>
<circle cx="509.35" cy="109" r="2.75"/>
<circle cx="509.35" cy="124.3" r="2.75"/>
<circle cx="509.35" cy="127.7" r="2.75"/>
<circle cx="509.35" cy="131.1" r="2.75"/>
<circle cx="509.35" cy="134.2" r="2.75"/>
<circle cx="509.35" cy="139.3" r="2.75"/>
<circle cx="509.35" cy="146.1" r="2.75"/>
<circle cx="509.35" cy="151.2" r="2.75"/>
<circle cx="509.35" cy="155.5" r="2.75"/>
<circle cx="516.07" cy="77.2" r="2.75"/>
<circle cx="516.07" cy="86.9" r="2.75"/>
<circle cx="516.07" cy="101.3" r="2.75"/>
<circle cx="516.07" cy="103.2" r="2.75"/>
<circle cx="516.07" cy="105.6" r="2.75"/>
<circle cx="516.07" cy="109" r="2.75"/>
<circle cx="516.07" cy="113.2" r="2.75"/>
<circle cx="516.07" cy="118.3" r="2.75"/>
<circle cx="516.07" cy="126" r="2.75"/>
<circle cx="516.07" cy="129.4" r="2.75"/>
<circle cx="516.07" cy="132.8" r="2.75"/>
<circle cx="516.07" cy="138.5" r="2.75"/>
<circle cx="516.07" cy="146.1" r="2.75"/>
<circle cx="516.07" cy="148" r="2.75"/>
<circle cx="516.07" cy="154.6" r="2.75"/>
<circle cx="522.8" cy="69" r="2.75"/>
<circle cx="522.8" cy="81.8" r="2.75"/>
<circle cx="522.8" cy="85.2" r="2.75"/>
<circle cx="522.8" cy="89.4" r="2.75"/>
<circle cx="522.8" cy="97.1" r="2.75"/>
<circle cx="522.8" cy="100.5" r="2.75"/>
<circle cx="522.8" cy="108.1" r="2.75"/>
<circle cx="522.8" cy="111.5" r="2.75"/>
<circle cx="522.8" cy="114.9" r="2.75"/>
<circle cx="522.8" cy="120" r="2.75"/>
<circle cx="522.8" cy="126" r="2.75"/>
<circle cx="522.8" cy="133.6" r="2.75"/>
<circle cx="522.8" cy="137.6" r="2.75"/>
<circle cx="522.8" cy="139.8" r="2.75"/>
<circle cx="522.8" cy="145.3" r="2.75"/>
<circle cx="536.25" cy="62.8" r="2.75"/>
<circle cx="536.25" cy="76.9" r="2.75"/>
<circle cx="536.25" cy="81" r="2.75"/>
<circle cx="536.25" cy="84.3" r="2.75"/>
<circle cx="536.25" cy="87.7" r="2.75"/>
<circle cx="536.25" cy="91.1" r="2.75"/>
<circle cx="536.25" cy="94.5" r="2.75"/>
<circle cx="536.25" cy="98.8" r="2.75"/>
<circle cx="536.25" cy="101.3" r="2.75"/>
<circle cx="536.25" cy="106.4" r="2.75"/>
<circle cx="536.25" cy="111.5" r="2.75"/>
<circle cx="536.25" cy="115.8" r="2.75"/>
<circle cx="536.25" cy="119.2" r="2.75"/>
<circle cx="536.25" cy="122.6" r="2.75"/>
<circle cx="536.25" cy="131.1" r="2.75"/>
<circle cx="536.25" cy="133.4" r="2.75"/>
<circle cx="549.7" cy="83.5" r="2.75"/>
<circle cx="549.7" cy="88.6" r="2.75"/>
<circle cx="549.7" cy="93.7" r="2.75"/>
<circle cx="549.7" cy="102.2" r="2.75"/>
<circle cx="549.7" cy="104.7" r="2.75"/>
<circle cx="549.7" cy="111.5" r="2.75"/>
<circle cx="549.7" cy="115.8" r="2.75"/>
<circle cx="549.7" cy="120" r="2.75"/>
<circle cx="549.7" cy="124.3" r="2.75"/>
<circle cx="549.7" cy="129.4" r="2.75"/>
<circle cx="549.7" cy="131.5" r="2.75"/>
<circle cx="549.7" cy="137.6" r="2.75"/>
<circle cx="549.7" cy="146.1" r="2.75"/>
<circle cx="576.6" cy="99.9" r="2.75"/>
<circle cx="576.6" cy="110.4" r="2.75"/>
<circle cx="576.6" cy="113.1" r="2.75"/>
<circle cx="576.6" cy="116.8" r="2.75"/>
<circle cx="576.6" cy="119.6" r="2.75"/>
<circle cx="576.6" cy="127.9" r="2.75"/>
<circle cx="576.6" cy="132.5" r="2.75"/>
<circle cx="576.6" cy="138" r="2.75"/>
<circle cx="576.6" cy="141.7" r="2.75"/>
<circle cx="576.6" cy="147.4" r="2.75"/>
<circle cx="576.6" cy="157.9" r="2.75"/>
<circle cx="603.5" cy="119.6" r="2.75"/>
<circle cx="603.5" cy="123.3" r="2.75"/>
<circle cx="603.5" cy="128.8" r="2.75"/>
<circle cx="603.5" cy="135.2" r="2.75"/>
<circle cx="603.5" cy="138" r="2.75"/>
<circle cx="603.5" cy="141.7" r="2.75"/>
<circle cx="603.5" cy="145.5" r="2.75"/>
<circle cx="603.5" cy="150.1" r="2.75"/>
<circle cx="603.5" cy="157.5" r="2.75"/>
<line x1="502.6" y1="157.7" x2="604.6" y2="157.7" class="loq"/>
<path d="M498.3 264.4C498.42 260.33 498.67 247.23 499 240C499.33 232.77 499.88 226.83 500.3 221C500.72 215.17 501.12 210.17 501.5 205C501.88 199.83 502.18 195.5 502.6 190C503.02 184.5 503.6 177 504 172C504.4 167 504.68 163.67 505 160C505.32 156.33 505.52 153.25 505.9 150C506.28 146.75 506.82 143.23 507.3 140.5C507.78 137.77 508.3 135.82 508.8 133.6C509.3 131.38 509.8 129.2 510.3 127.2C510.8 125.2 511.22 123.47 511.8 121.6C512.38 119.73 513.13 117.65 513.8 116C514.47 114.35 515.02 113.17 515.8 111.7C516.58 110.23 517.52 108.43 518.5 107.2C519.48 105.97 520.62 104.88 521.7 104.3C522.78 103.72 523.62 103.8 525 103.7C526.38 103.6 528.33 103.68 530 103.7C531.67 103.72 533.7 103.72 535 103.8C536.3 103.88 536.47 103.73 537.8 104.2C539.13 104.67 541.05 105.65 543 106.6C544.95 107.55 547.5 108.77 549.5 109.9C551.5 111.03 553.25 112.3 555 113.4C556.75 114.5 557.77 115.13 560 116.5C562.23 117.87 563.93 119.08 568.4 121.6C572.87 124.12 581.53 128.95 586.8 131.6C592.07 134.25 596.08 135.88 600 137.5C603.92 139.12 608.58 140.67 610.3 141.3" class="med"/>
<path d="M495.9 13.2V264.4H610.4" class="ax"/>
<path d="M491.2 13.2H495.9" class="ax"/>
<text x="474.6" y="17.1" class="tl">100</text>
<path d="M491.2 76H495.9" class="ax"/>
<text x="474.6" y="79.9" class="tl">10</text>
<path d="M491.2 138.8H495.9" class="ax"/>
<text x="474.6" y="142.7" class="tl">1</text>
<path d="M491.2 201.6H495.9" class="ax"/>
<text x="474.6" y="205.5" class="tl">0.1</text>
<path d="M491.2 264.4H495.9" class="ax"/>
<text x="474.6" y="268.3" class="tl">0.01</text>
<path d="M495.9 264.4V269" class="ax"/>
<path d="M522.8 264.4V269" class="ax"/>
<path d="M549.7 264.4V269" class="ax"/>
<path d="M576.6 264.4V269" class="ax"/>
<path d="M603.5 264.4V269" class="ax"/>
<text x="553.15" y="10" class="ti">HMSVA</text>
<path d="M502.5 288.2C502.83 289.08 503.85 291.9 504.5 293.5C505.15 295.1 505.73 296.45 506.4 297.8C507.07 299.15 507.73 300.4 508.5 301.6C509.27 302.8 509.98 304.02 511 305C512.02 305.98 512.63 306.68 514.6 307.5C516.57 308.32 519.25 309.33 522.8 309.9C526.35 310.47 531.47 310.83 535.9 310.9C540.33 310.97 542.7 311.03 549.4 310.3C556.1 309.57 567.18 308.05 576.1 306.5C585.02 304.95 598.43 301.92 602.9 301L602.9 307.8C598.43 308.58 585.02 311.15 576.1 312.5C567.18 313.85 556.1 315.23 549.4 315.9C542.7 316.57 540.33 316.53 535.9 316.5C531.47 316.47 526.35 316.28 522.8 315.7C519.25 315.12 516.57 313.95 514.6 313C512.63 312.05 512.02 311.18 511 310C509.98 308.82 509.27 307.33 508.5 305.9C507.73 304.47 507.07 302.97 506.4 301.4C505.73 299.83 505.15 298.33 504.5 296.5C503.85 294.67 502.83 291.42 502.5 290.4Z" class="bband"/>
<path d="M502.5 289.3C502.83 290.25 503.85 293.3 504.5 295C505.15 296.7 505.73 298.07 506.4 299.5C507.07 300.93 507.73 302.3 508.5 303.6C509.27 304.9 509.98 306.23 511 307.3C512.02 308.37 512.63 309.12 514.6 310C516.57 310.88 519.25 312 522.8 312.6C526.35 313.2 531.47 313.53 535.9 313.6C540.33 313.67 542.7 313.7 549.4 313C556.1 312.3 567.18 310.82 576.1 309.4C585.02 307.98 598.43 305.32 602.9 304.5" class="bmed"/>
<path d="M499.4 287.2L502.5 289.6L505.7 286.7" class="ythin"/>
<path d="M496.05 280.4V317.55H610.4" class="ax"/>
<path d="M494.25 280.4H496.05" class="ax"/>
<text x="481.35" y="284.3" class="tl">1</text>
<path d="M494.25 298.98H496.05" class="ax"/>
<text x="481.35" y="302.88" class="tl">0.5</text>
<path d="M494.25 317.55H496.05" class="ax"/>
<text x="481.35" y="321.45" class="tl">0</text>
<path d="M495.9 317.55V320.35" class="ax"/>
<text x="495.9" y="334.2" class="tl">0</text>
<path d="M522.8 317.55V320.35" class="ax"/>
<text x="522.8" y="334.2" class="tl">2</text>
<path d="M549.7 317.55V320.35" class="ax"/>
<text x="549.7" y="334.2" class="tl">4</text>
<path d="M576.6 317.55V320.35" class="ax"/>
<text x="576.6" y="334.2" class="tl">6</text>
<path d="M603.5 317.55V320.35" class="ax"/>
<text x="603.5" y="334.2" class="tl">8</text>
<circle cx="509.2" cy="305.7" r="2.75"/>
<circle cx="515.8" cy="313.9" r="2.75"/>
<circle cx="522.5" cy="316" r="2.75"/>
<circle cx="535.9" cy="317.7" r="2.75"/>
<circle cx="549.4" cy="317.7" r="2.75"/>
<circle cx="576.1" cy="314.7" r="2.75"/>
<circle cx="602.9" cy="308.3" r="2.75"/>
<path d="M648.2 264.4C648.22 253.67 648.25 219.07 648.3 200C648.35 180.93 648.37 162.5 648.5 150C648.63 137.5 648.9 131.67 649.1 125C649.3 118.33 649.45 115 649.7 110C649.95 105 650.33 99.17 650.6 95C650.87 90.83 650.92 88.08 651.3 85C651.68 81.92 652.13 79.53 652.9 76.5C653.67 73.47 654.88 69.47 655.9 66.8C656.92 64.13 657.8 62.08 659 60.5C660.2 58.92 661.63 57.97 663.1 57.3C664.57 56.63 665.9 56.52 667.8 56.5C669.7 56.48 671.63 56.55 674.5 57.2C677.37 57.85 681.42 59.05 685 60.4C688.58 61.75 692.67 63.82 696 65.3C699.33 66.78 701.4 67.17 705 69.3C708.6 71.43 712.58 75.17 717.6 78.1C722.62 81.03 729.55 84.42 735.1 86.9C740.65 89.38 746.7 91.52 750.9 93C755.1 94.48 758.73 95.33 760.3 95.8L760.3 193C758.78 192.63 754.75 191.85 751.2 190.8C747.65 189.75 743.08 188.23 739 186.7C734.92 185.17 730.78 183.97 726.7 181.6C722.62 179.23 717.28 174.65 714.5 172.5C711.72 170.35 711.83 170.08 710 168.7C708.17 167.32 705.5 165.73 703.5 164.2C701.5 162.67 699.32 160.63 698 159.5C696.68 158.37 696.77 158.35 695.6 157.4C694.43 156.45 692.6 154.7 691 153.8C689.4 152.9 687.67 152.3 686 152C684.33 151.7 682.42 151.78 681 152C679.58 152.22 678.67 152.8 677.5 153.3C676.33 153.8 674.97 154.42 674 155C673.03 155.58 672.62 155.88 671.7 156.8C670.78 157.72 669.48 159.25 668.5 160.5C667.52 161.75 666.8 162.97 665.8 164.3C664.8 165.63 663.67 166.72 662.5 168.5C661.33 170.28 659.97 173 658.8 175C657.63 177 656.5 178.5 655.5 180.5C654.5 182.5 653.58 184.58 652.8 187C652.02 189.42 651.32 191.73 650.8 195C650.28 198.27 650 200.77 649.7 206.6C649.4 212.43 649.17 220.37 649 230C648.83 239.63 648.75 258.67 648.7 264.4Z" class="band"/>
<circle cx="652.62" cy="84.8" r="2.75"/>
<circle cx="652.62" cy="90.8" r="2.75"/>
<circle cx="652.62" cy="95" r="2.75"/>
<circle cx="652.62" cy="116" r="2.75"/>
<circle cx="652.62" cy="128.8" r="2.75"/>
<circle cx="652.62" cy="133" r="2.75"/>
<circle cx="652.62" cy="139" r="2.75"/>
<circle cx="652.62" cy="145.8" r="2.75"/>
<circle cx="652.62" cy="150.9" r="2.75"/>
<circle cx="652.62" cy="156" r="2.75"/>
<circle cx="652.62" cy="159.4" r="2.75"/>
<circle cx="659.35" cy="79.1" r="2.75"/>
<circle cx="659.35" cy="83.7" r="2.75"/>
<circle cx="659.35" cy="91.6" r="2.75"/>
<circle cx="659.35" cy="95.9" r="2.75"/>
<circle cx="659.35" cy="101" r="2.75"/>
<circle cx="659.35" cy="106.7" r="2.75"/>
<circle cx="659.35" cy="110.1" r="2.75"/>
<circle cx="659.35" cy="116" r="2.75"/>
<circle cx="659.35" cy="128" r="2.75"/>
<circle cx="659.35" cy="133" r="2.75"/>
<circle cx="659.35" cy="138.1" r="2.75"/>
<circle cx="659.35" cy="149.2" r="2.75"/>
<circle cx="659.35" cy="153.4" r="2.75"/>
<circle cx="666.07" cy="73.7" r="2.75"/>
<circle cx="666.07" cy="81.4" r="2.75"/>
<circle cx="666.07" cy="88.2" r="2.75"/>
<circle cx="666.07" cy="91.6" r="2.75"/>
<circle cx="666.07" cy="97.6" r="2.75"/>
<circle cx="666.07" cy="101" r="2.75"/>
<circle cx="666.07" cy="105.2" r="2.75"/>
<circle cx="666.07" cy="108.6" r="2.75"/>
<circle cx="666.07" cy="111.8" r="2.75"/>
<circle cx="666.07" cy="121.1" r="2.75"/>
<circle cx="666.07" cy="124.5" r="2.75"/>
<circle cx="666.07" cy="128.8" r="2.75"/>
<circle cx="666.07" cy="155.1" r="2.75"/>
<circle cx="672.8" cy="60.4" r="2.75"/>
<circle cx="672.8" cy="71.7" r="2.75"/>
<circle cx="672.8" cy="88.8" r="2.75"/>
<circle cx="672.8" cy="95" r="2.75"/>
<circle cx="672.8" cy="99.3" r="2.75"/>
<circle cx="672.8" cy="103.5" r="2.75"/>
<circle cx="672.8" cy="107.8" r="2.75"/>
<circle cx="672.8" cy="110.6" r="2.75"/>
<circle cx="672.8" cy="114.3" r="2.75"/>
<circle cx="672.8" cy="121.1" r="2.75"/>
<circle cx="672.8" cy="124.5" r="2.75"/>
<circle cx="672.8" cy="145.8" r="2.75"/>
<circle cx="672.8" cy="150" r="2.75"/>
<circle cx="686.25" cy="70.7" r="2.75"/>
<circle cx="686.25" cy="87.7" r="2.75"/>
<circle cx="686.25" cy="92.5" r="2.75"/>
<circle cx="686.25" cy="97.6" r="2.75"/>
<circle cx="686.25" cy="102.7" r="2.75"/>
<circle cx="686.25" cy="107.8" r="2.75"/>
<circle cx="686.25" cy="114.3" r="2.75"/>
<circle cx="686.25" cy="121.1" r="2.75"/>
<circle cx="686.25" cy="124.5" r="2.75"/>
<circle cx="686.25" cy="127.1" r="2.75"/>
<circle cx="686.25" cy="128.8" r="2.75"/>
<circle cx="699.7" cy="86.5" r="2.75"/>
<circle cx="699.7" cy="95" r="2.75"/>
<circle cx="699.7" cy="100.1" r="2.75"/>
<circle cx="699.7" cy="105.2" r="2.75"/>
<circle cx="699.7" cy="111" r="2.75"/>
<circle cx="699.7" cy="116.9" r="2.75"/>
<circle cx="699.7" cy="121.1" r="2.75"/>
<circle cx="699.7" cy="125.4" r="2.75"/>
<circle cx="699.7" cy="127.1" r="2.75"/>
<circle cx="699.7" cy="130.5" r="2.75"/>
<circle cx="699.7" cy="135.6" r="2.75"/>
<circle cx="699.7" cy="140.7" r="2.75"/>
<circle cx="699.7" cy="145.8" r="2.75"/>
<circle cx="726.6" cy="112.9" r="2.75"/>
<circle cx="726.6" cy="115.5" r="2.75"/>
<circle cx="726.6" cy="121.7" r="2.75"/>
<circle cx="726.6" cy="125.2" r="2.75"/>
<circle cx="726.6" cy="127.8" r="2.75"/>
<circle cx="726.6" cy="132.2" r="2.75"/>
<circle cx="726.6" cy="135.7" r="2.75"/>
<circle cx="726.6" cy="139.2" r="2.75"/>
<circle cx="726.6" cy="143.6" r="2.75"/>
<circle cx="726.6" cy="147.1" r="2.75"/>
<circle cx="726.6" cy="151.5" r="2.75"/>
<circle cx="726.6" cy="155" r="2.75"/>
<circle cx="726.6" cy="157.7" r="2.75"/>
<circle cx="753.5" cy="127" r="2.75"/>
<circle cx="753.5" cy="134" r="2.75"/>
<circle cx="753.5" cy="137.5" r="2.75"/>
<circle cx="753.5" cy="142.8" r="2.75"/>
<circle cx="753.5" cy="147.1" r="2.75"/>
<circle cx="753.5" cy="151.5" r="2.75"/>
<circle cx="753.5" cy="155" r="2.75"/>
<circle cx="753.5" cy="157.7" r="2.75"/>
<line x1="652.6" y1="157.7" x2="754.6" y2="157.7" class="loq"/>
<path d="M647.6 264.4C647.67 258.67 647.83 242.4 648 230C648.17 217.6 648.23 200 648.6 190C648.97 180 649.9 175 650.2 170C650.5 165 650.28 164.17 650.4 160C650.52 155.83 650.62 150 650.9 145C651.18 140 651.72 134 652.1 130C652.48 126 652.8 123.83 653.2 121C653.6 118.17 654.05 115.5 654.5 113C654.95 110.5 655.28 108.17 655.9 106C656.52 103.83 657.18 101.62 658.2 100C659.22 98.38 660.87 97.2 662 96.3C663.13 95.4 663.87 95 665 94.6C666.13 94.2 667.03 93.83 668.8 93.9C670.57 93.97 672.48 93.93 675.6 95C678.72 96.07 684.38 98.72 687.5 100.3C690.62 101.88 692.32 103.25 694.3 104.5C696.28 105.75 697.62 106.62 699.4 107.8C701.18 108.98 701.97 109.58 705 111.6C708.03 113.62 712.58 116.62 717.6 119.9C722.62 123.18 728.05 127.48 735.1 131.3C742.15 135.12 755.77 140.88 759.9 142.8" class="med"/>
<path d="M645.9 13.2V264.4H760.4" class="ax"/>
<path d="M641.2 13.2H645.9" class="ax"/>
<text x="624.6" y="17.1" class="tl">100</text>
<path d="M641.2 76H645.9" class="ax"/>
<text x="624.6" y="79.9" class="tl">10</text>
<path d="M641.2 138.8H645.9" class="ax"/>
<text x="624.6" y="142.7" class="tl">1</text>
<path d="M641.2 201.6H645.9" class="ax"/>
<text x="624.6" y="205.5" class="tl">0.1</text>
<path d="M641.2 264.4H645.9" class="ax"/>
<text x="624.6" y="268.3" class="tl">0.01</text>
<path d="M645.9 264.4V269" class="ax"/>
<path d="M672.8 264.4V269" class="ax"/>
<path d="M699.7 264.4V269" class="ax"/>
<path d="M726.6 264.4V269" class="ax"/>
<path d="M753.5 264.4V269" class="ax"/>
<text x="703.15" y="10" class="ti">DHSV</text>
<path d="M652.4 302.3C653.12 303.65 655.58 308.62 656.7 310.4C657.82 312.18 657.72 312.15 659.1 313C660.48 313.85 660.52 315.08 665 315.5C669.48 315.92 680.28 315.78 686 315.5C691.72 315.22 692.62 315.07 699.3 313.8C705.98 312.53 717.15 309.95 726.1 307.9C735.05 305.85 748.52 302.57 753 301.5L753 308.4C748.52 309.28 735.05 312.18 726.1 313.7C717.15 315.22 705.98 316.91 699.3 317.55C692.62 318.19 691.72 317.55 686 317.55C680.28 317.55 669.48 317.81 665 317.55C660.52 317.29 660.48 316.69 659.1 316C657.72 315.31 657.82 315.25 656.7 313.4C655.58 311.55 653.12 306.32 652.4 304.9Z" class="bband"/>
<path d="M652.4 303.6C653.12 304.98 655.58 310.08 656.7 311.9C657.82 313.72 657.72 313.65 659.1 314.5C660.48 315.35 660.52 316.55 665 317C669.48 317.45 680.28 317.32 686 317.2C691.72 317.08 692.62 317.33 699.3 316.3C705.98 315.27 717.15 312.83 726.1 311C735.05 309.17 748.52 306.25 753 305.3" class="bmed"/>
<path d="M646.05 280.4V317.55H760.4" class="ax"/>
<path d="M644.25 280.4H646.05" class="ax"/>
<text x="631.35" y="284.3" class="tl">1</text>
<path d="M644.25 298.98H646.05" class="ax"/>
<text x="631.35" y="302.88" class="tl">0.5</text>
<path d="M644.25 317.55H646.05" class="ax"/>
<text x="631.35" y="321.45" class="tl">0</text>
<path d="M645.9 317.55V320.35" class="ax"/>
<text x="645.9" y="334.2" class="tl">0</text>
<path d="M672.8 317.55V320.35" class="ax"/>
<text x="672.8" y="334.2" class="tl">2</text>
<path d="M699.7 317.55V320.35" class="ax"/>
<text x="699.7" y="334.2" class="tl">4</text>
<path d="M726.6 317.55V320.35" class="ax"/>
<text x="726.6" y="334.2" class="tl">6</text>
<path d="M753.5 317.55V320.35" class="ax"/>
<text x="753.5" y="334.2" class="tl">8</text>
<circle cx="652.3" cy="299.1" r="2.75"/>
<circle cx="659.1" cy="314.7" r="2.75"/>
<circle cx="665.7" cy="316" r="2.75"/>
<circle cx="672.6" cy="318" r="2.75"/>
<circle cx="685.9" cy="318" r="2.75"/>
<circle cx="699.3" cy="318" r="2.75"/>
<circle cx="726.1" cy="312.4" r="2.75"/>
<circle cx="753" cy="300.4" r="2.75"/>
<text transform="translate(10.6,138.6) rotate(-90)" class="lab">Conc (nM)</text>
<text transform="translate(17.6,299.6) rotate(-90)" class="lab" style="font-size:12.4px">fraction BQL</text>
<text x="403.2" y="349.4" class="lab">TIME (h)</text>
</svg>
</body></html>
